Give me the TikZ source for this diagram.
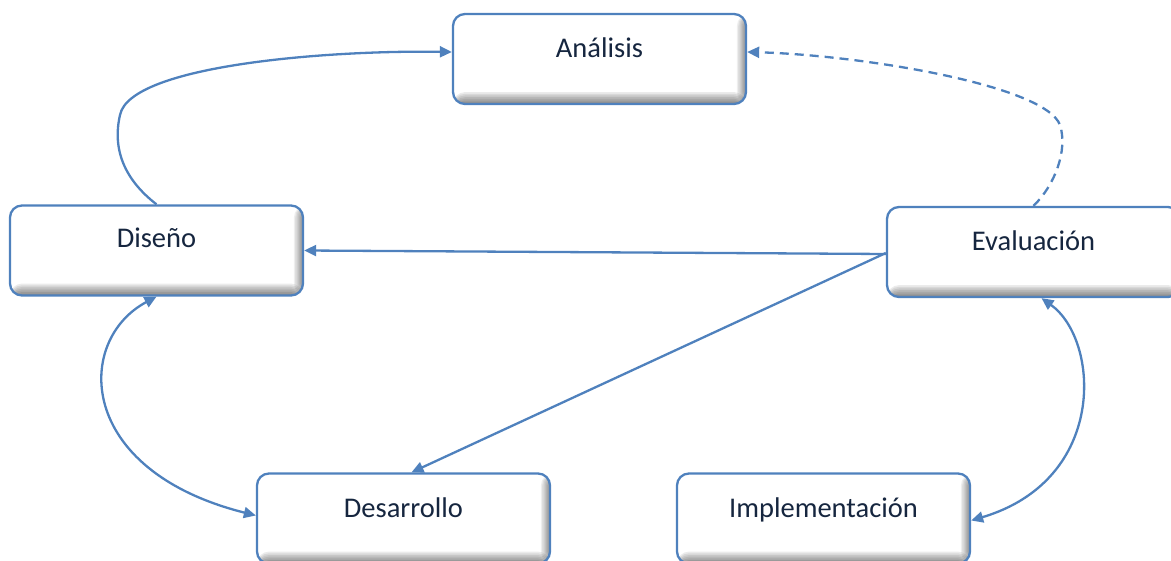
\documentclass[tikz,border=0pt]{standalone}
\usepackage{fontspec}
\setmainfont{Carlito}
\usetikzlibrary{arrows.meta}
\definecolor{edge}{RGB}{79,129,189}
\definecolor{ink}{HTML}{16263F}
\tikzset{
  stage/.style={draw=edge, line width=2.3pt, fill=white, rounded corners=12pt,
    minimum width=293pt, minimum height=90pt, inner sep=0pt,
    path picture={
      \foreach \k in {1,...,7}{
        \fill[black,opacity=0.065] ([xshift={-\k*1.3pt}]path picture bounding box.north east)
          rectangle (path picture bounding box.south east);
        \fill[black,opacity=0.08] ([yshift={\k*1.7pt}]path picture bounding box.south west)
          rectangle (path picture bounding box.south east);
      }
    }},
  caption/.style={text=ink, font=\fontsize{28.5}{32}\selectfont, inner sep=0pt, anchor=base},
  flow/.style={draw=edge, line width=2.3pt, -{Triangle[length=12pt,width=11pt]}},
  both/.style={draw=edge, line width=2.3pt, {Triangle[length=12pt,width=11pt]}-{Triangle[length=12pt,width=11pt]}},
  back/.style={flow, dash pattern=on 9pt off 6pt}
}
\begin{document}
\begin{tikzpicture}[x=1pt,y=-1pt]
  \useasboundingbox (0,0) rectangle (1171,561);

  % stages
  \node[stage] (ana) at (599.5,59) {};
  \node[stage] (dis) at (156.5,250.5) {};
  \node[stage] (eva) at (1033.5,252) {};
  \node[stage] (des) at (403.5,518.5) {};
  \node[stage] (imp) at (823.5,518.5) {};

  % stage names, set on a common baseline just above each centre
  \node[caption] (anaT) at ([yshift=1.5pt]ana.center) {Análisis};
  \node[caption] (disT) at ([yshift=3pt]dis.center) {Diseño};
  \node[caption] (evaT) at ([yshift=1.5pt]eva.center) {Evaluación};
  \node[caption] (desT) at ([yshift=1.5pt]des.center) {Desarrollo};
  \node[caption] (impT) at ([yshift=1pt]imp.center) {Implementación};

  % connectors
  \draw[flow] (dis.north) .. controls (125,180) and (112,150) .. (120,115)
    .. controls (130,65) and (330,50) .. ([yshift=7pt]ana.west);
  \draw[back] (eva.north) .. controls (1055,185) and (1068,150) .. (1060,125)
    .. controls (1045,85) and (860,55) .. ([yshift=7pt]ana.east);
  \draw[flow] ([yshift=-2pt]eva.west) -- (dis.east);
  \draw[flow] ([yshift=-1pt]eva.west) -- ([xshift=8pt]des.north);
  \draw[both] (dis.south) .. controls (75,340) and (75,470) .. ([yshift=3pt]des.west);
  \draw[both] ([xshift=8pt]eva.south) .. controls (1100,340) and (1108,480) .. ([yshift=-2pt]imp.east);
\end{tikzpicture}
\end{document}
